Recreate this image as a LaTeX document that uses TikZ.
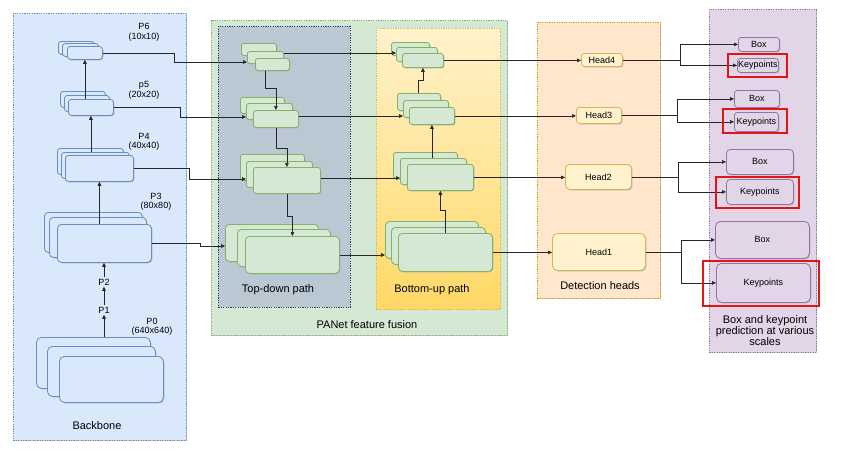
\documentclass[tikz,border=0pt]{standalone}
\usepackage{fontspec}
\setmainfont{Liberation Sans}
\usetikzlibrary{arrows.meta,shadows}
\definecolor{bbFill}{HTML}{DAE8FC}
\definecolor{bbLine}{HTML}{6C8EBF}
\definecolor{gFill}{HTML}{D5E8D4}
\definecolor{gLine}{HTML}{82B366}
\definecolor{tdFill}{HTML}{BAC8D3}
\definecolor{tdLine}{HTML}{23445D}
\definecolor{buTop}{HTML}{FFF2CC}
\definecolor{buBot}{HTML}{FFD966}
\definecolor{yLine}{HTML}{D6B656}
\definecolor{dhFill}{HTML}{FFE6CC}
\definecolor{dhLine}{HTML}{D79B00}
\definecolor{pFill}{HTML}{E1D5E7}
\definecolor{pLine}{HTML}{9673A6}
\definecolor{redLine}{rgb}{0.90,0.08,0.08}
\definecolor{conn}{HTML}{262626}
\definecolor{shdCol}{HTML}{A9B0B8}
\definecolor{pshdCol}{HTML}{C8CCD0}
\newcommand\fntS{\fontsize{9}{9.5}\selectfont}
\newcommand\fntL{\fontsize{11}{11}\selectfont}
\newcommand\bx[7]{\node[#2,anchor=north west,minimum width={#5-#3},minimum height={#6-#4}] (#1) at (#3,#4) {#7};}
\begin{document}
\begin{tikzpicture}[x=1pt,y=-1pt,
  panel/.style={draw, dash pattern=on 1.2pt off 1.2pt, line width=0.6pt, inner sep=0pt,
    drop shadow={shadow xshift=1pt,shadow yshift=-1pt,fill=pshdCol,opacity=1}},
  shd/.style={drop shadow={shadow xshift=0.9pt,shadow yshift=-0.9pt,fill=shdCol,opacity=1}},
  bbox/.style={draw=bbLine, fill=bbFill, line width=0.8pt, rounded corners=3pt, inner sep=0pt, shd},
  gbox/.style={draw=gLine, fill=gFill, line width=0.8pt, rounded corners=2.5pt, inner sep=0pt, shd},
  hbox/.style={draw=yLine, fill=buTop, line width=0.8pt, rounded corners=3pt, inner sep=0pt, font=\fntS, shd},
  pbox/.style={draw=pLine, fill=pFill, line width=0.8pt, rounded corners=3pt, inner sep=0pt, font=\fntS, shd},
  lbl/.style={font=\fntS, align=center, inner sep=1.5pt},
  plbl/.style={font=\fntL, align=center, inner sep=1pt},
  arr/.style={draw=conn, line width=0.6pt, -{Triangle[length=4pt,width=3.6pt]}}
]
\useasboundingbox (0,0) rectangle (850,458);
\fill[white] (0,0) rectangle (850,458);

% ---------- panels ----------
\bx{bbp}{panel,draw=bbLine,fill=bbFill}{13}{13}{186}{440}{}
\bx{pap}{panel,draw=gLine,fill=gFill}{211}{20}{507}{335}{}
\node[draw=tdLine, fill=tdFill, dash pattern=on 1.2pt off 1.2pt, line width=0.6pt, inner sep=0pt,
  anchor=north west, minimum width=132, minimum height=281] (tdp) at (218,26) {};
\node[draw=yLine, top color=buTop, bottom color=buBot, dash pattern=on 1.2pt off 1.2pt, line width=0.6pt, inner sep=0pt,
  anchor=north west, minimum width=124, minimum height=281] (bup) at (376,28) {};
\bx{dhp}{panel,draw=dhLine,fill=dhFill}{537}{22}{660}{298}{}
\bx{ppp}{panel,draw=pLine,fill=pFill}{709}{9}{816}{352}{}

\node[plbl] (lbb) at (97,426) {Backbone};
\node[plbl] (lpa) at (367,325) {PANet feature fusion};
\node[plbl] (ltd) at (278,290) {Top-down path};
\node[plbl] (lbu) at (432,290) {Bottom-up path};
\node[plbl] (ldh) at (600,286) {Detection heads};
\node[font=\fntL, align=center, inner sep=0pt] (lpp) at (765,331) {Box and keypoint\\prediction at various\\scales};

% ---------- backbone stacks ----------
\bx{p6a}{bbox}{58}{41}{94}{54}{}
\bx{p6b}{bbox}{62}{43}{98}{56}{}
\bx{p6c}{bbox}{67}{46}{102}{59}{}
\bx{p5a}{bbox}{60}{91}{105}{107}{}
\bx{p5b}{bbox}{64}{95}{109}{111}{}
\bx{p5c}{bbox}{68}{99}{113}{115}{}
\bx{p4a}{bbox}{57}{148}{123}{174}{}
\bx{p4b}{bbox}{61}{152}{129}{178}{}
\bx{p4c}{bbox}{65}{155}{133}{181}{}
\bx{p3a}{bbox,rounded corners=4pt}{44}{212}{142}{252}{}
\bx{p3b}{bbox,rounded corners=4pt}{49}{217}{146}{257}{}
\bx{p3c}{bbox,rounded corners=4pt}{57}{224}{151}{262}{}
\bx{p0a}{bbox,rounded corners=5pt}{36}{337}{150}{388}{}
\bx{p0b}{bbox,rounded corners=5pt}{47}{346}{155}{396}{}
\bx{p0c}{bbox,rounded corners=5pt}{59}{356}{163}{402}{}

\node[lbl] (lp6) at (144,32.5) {P6\\(10x10)};
\node[lbl] (lp5) at (144,90.5) {p5\\(20x20)};
\node[lbl] (lp4) at (144,142) {P4\\(40x40)};
\node[lbl] (lp3) at (156,202) {P3\\(80x80)};
\node[lbl] (lp0) at (152,327) {P0\\(640x640)};
\node[lbl] (lp2) at (104,282) {P2};
\node[lbl] (lp1) at (104,310) {P1};

% ---------- top-down stacks ----------
\bx{td1a}{gbox}{241}{43}{276}{55}{}
\bx{td1b}{gbox}{247}{51}{283}{63}{}
\bx{td1c}{gbox}{255}{58}{289}{70}{}
\bx{td2a}{gbox}{240}{97}{284}{113}{}
\bx{td2b}{gbox}{246}{103}{292}{119}{}
\bx{td2c}{gbox}{253}{110}{298}{127}{}
\bx{td3a}{gbox}{240}{154}{304}{180}{}
\bx{td3b}{gbox}{246}{161}{312}{187}{}
\bx{td3c}{gbox}{253}{167}{320}{193}{}
\bx{td4a}{gbox,rounded corners=4pt}{225}{224}{318}{261}{}
\bx{td4b}{gbox,rounded corners=4pt}{237}{229}{330}{266}{}
\bx{td4c}{gbox,rounded corners=4pt}{245}{236}{339}{273}{}

% ---------- bottom-up stacks ----------
\bx{bu1a}{gbox}{391}{42}{429}{55}{}
\bx{bu1b}{gbox}{396}{47}{437}{61}{}
\bx{bu1c}{gbox}{402}{53}{443}{67}{}
\bx{bu2a}{gbox}{397}{93}{440}{110}{}
\bx{bu2b}{gbox}{403}{100}{448}{117}{}
\bx{bu2c}{gbox}{409}{107}{454}{124}{}
\bx{bu3a}{gbox}{393}{152}{457}{178}{}
\bx{bu3b}{gbox}{400}{158}{466}{184}{}
\bx{bu3c}{gbox}{407}{164}{473}{190}{}
\bx{bu4a}{gbox,rounded corners=4pt}{385}{221}{478}{258}{}
\bx{bu4b}{gbox,rounded corners=4pt}{391}{227}{485}{264}{}
\bx{bu4c}{gbox,rounded corners=4pt}{398}{233}{492}{271}{}

% ---------- heads ----------
\bx{h4}{hbox}{581}{53}{622}{66}{Head4}
\bx{h3}{hbox}{576}{107}{621}{123}{Head3}
\bx{h2}{hbox,rounded corners=4pt}{565}{164}{631}{189}{Head2}
\bx{h1}{hbox,rounded corners=5pt}{552}{233}{645}{270}{Head1}

% ---------- outputs ----------
\bx{b4}{pbox}{738}{37}{779}{51}{Box}
\bx{k4}{pbox}{737}{58}{778}{72}{Keypoints}
\bx{b3}{pbox}{734}{90}{779}{107}{Box}
\bx{k3}{pbox}{734}{112}{778}{131}{Keypoints}
\bx{b2}{pbox,rounded corners=4pt}{726}{149}{793}{174}{Box}
\bx{k2}{pbox,rounded corners=4pt}{726}{179}{793}{204}{Keypoints}
\bx{b1}{pbox,rounded corners=5pt}{715}{221}{809}{258}{Box}
\bx{k1}{pbox,rounded corners=5pt}{716}{263}{810}{302}{Keypoints}

% ---------- connectors: backbone ----------
\draw[arr] (p0a.north -| lp1) -- (lp1.south);
\draw[arr] (lp1.north) -- (lp2.south);
\draw[arr] (lp2.north) -- (lp2.north |- p3c.south);
\draw[arr] (p3c.north -| p4c) -- (p4c.south);
\draw[arr] (p4b.north -| p5c) -- (p5c.south);
\draw[arr] (p5c.north -| p6c) -- (p6c.south);

% backbone -> top-down
\draw[arr] (p6c.east) -| (174,62) -- (td1b.west |- 0,62);
\draw[arr] (p5c.east) -| (180,117) -- (td2b.west |- 0,117);
\draw[arr] (p4c.east) -| (189,179) -- (td3b.west |- 0,179);
\draw[arr] (p3c.east) -| (200,246) -- (td4a.west |- 0,246);

% top-down path
\draw[arr] (td1c.south -| 265,0) -- (265,88) -| (td2c.north);
\draw[arr] (td2c.south) -- ++(0,20) -| (td3c.north);
\draw[arr] (td3c.south) -- ++(0,22) -| (td4c.north);

% lateral
\draw[arr] (td1b.east |- 0,53) -- (bu1b.west |- 0,53);
\draw[arr] (td2c.east |- 0,116) -- (bu2b.west |- 0,116);
\draw[arr] (td3c.east |- 0,178) -- (bu3b.west |- 0,178);
\draw[arr] (td4c.east |- 0,255) -- (bu4a.west |- 0,255);

% bottom-up path
\draw[arr] (bu4c.north -| 445,0) -- (445,210) -| (bu3c.south);
\draw[arr] (bu3b.north -| bu2c) -- (bu2c.south);
\draw[arr] (bu2a.north -| 418,0) -- (418,80) -| (bu1c.south);

% bottom-up -> heads
\draw[arr] (bu1c.east) -- (h4.west |- bu1c.east);
\draw[arr] (bu2c.east) -- (h3.west |- bu2c.east);
\draw[arr] (bu3c.east) -- (h2.west |- bu3c.east);
\draw[arr] (bu4c.east) -- (h1.west |- bu4c.east);

% heads -> outputs
\draw[arr] (h4.east) -| (b4.west -| 680,0) -- (b4.west);
\draw[arr] (h4.east) -| (k4.west -| 680,0) -- (k4.west);
\draw[arr] (h3.east) -| (b3.west -| 677,0) -- (b3.west);
\draw[arr] (h3.east) -| (k3.west -| 677,0) -- (k3.west);
\draw[arr] (h2.east) -| (b2.west -| 678,0) -- (b2.west);
\draw[arr] (h2.east) -| (k2.west -| 678,0) -- (k2.west);
\draw[arr] (h1.east) -| (b1.west -| 681,0) -- (b1.west);
\draw[arr] (h1.east) -| (k1.west -| 681,0) -- (k1.west);

% red highlight frames
\draw[draw=redLine, line width=1.4pt] (728,54) rectangle (787,77);
\draw[draw=redLine, line width=1.4pt] (723,109) rectangle (787,133);
\draw[draw=redLine, line width=1.4pt] (716,177) rectangle (799,208);
\draw[draw=redLine, line width=1.4pt] (703,261) rectangle (819,306);
\end{tikzpicture}
\end{document}
